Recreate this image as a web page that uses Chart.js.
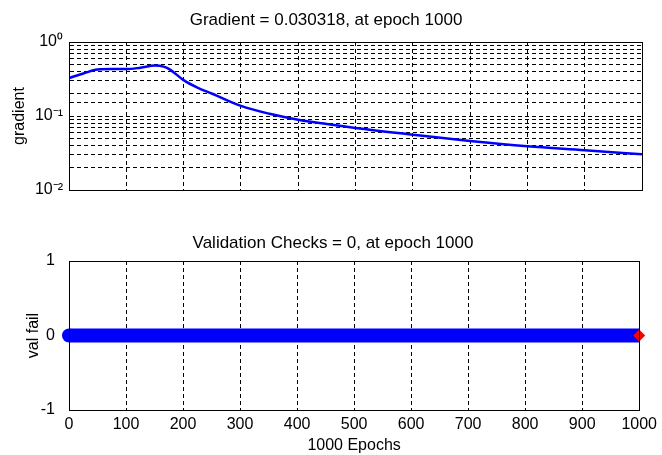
<!DOCTYPE html>
<html>
<head>
	<title></title>
	<script src="https://cdn.jsdelivr.net/npm/chart.js@4.4.1/dist/chart.umd.min.js"></script>
	<style>
		body { margin: 0; background: #fff; }
		canvas { position: absolute; left: 0; }
	</style>
</head>
<body>
	<canvas id="gradChart" width="662" height="230" style="top:0px;"></canvas>
	<canvas id="valChart" width="662" height="225" style="top:230px;"></canvas>
	<script>
		// gradient per epoch
		var epochs = [0, 25, 50, 75, 100, 125, 150, 165, 175, 200, 225, 250, 300, 350, 400, 450, 500, 600, 700, 800, 900, 1000];
		var gradient = [0.326, 0.375, 0.424, 0.43, 0.43, 0.45, 0.48, 0.465, 0.43, 0.305, 0.24, 0.2, 0.137, 0.107, 0.089, 0.078, 0.069, 0.056, 0.046, 0.039, 0.0345, 0.0303];

		// validation fails, 0 for the whole run
		var valEpochs = [0, 1000];
		var valFail = [0, 0];
		var bestEpoch = [1000];
		var bestVal = [0];

		var xTicks = [0, 100, 200, 300, 400, 500, 600, 700, 800, 900, 1000];
		var supers = { '0': '⁰', '-1': '⁻¹', '-2': '⁻²' };

		var family = 'Arial, "Liberation Sans", sans-serif';
		var font = { family: family, size: 16 };
		var titleFont = { family: family, size: 17, weight: 'normal' };
		var dash = [4, 3];

		function pts(xs, ys) {
			var out = [];
			for (var i = 0; i < xs.length; i++) out.push({ x: xs[i], y: ys[i] });
			return out;
		}

		// draws the full box round the plot area like matlab
		var boxPlugin = {
			id: 'box',
			afterDraw: function(chart) {
				var a = chart.chartArea, ctx = chart.ctx;
				ctx.save();
				ctx.strokeStyle = '#000';
				ctx.lineWidth = 1;
				ctx.strokeRect(Math.round(a.left) + 0.5, Math.round(a.top) + 0.5, Math.round(a.right - a.left), Math.round(a.bottom - a.top));
				ctx.restore();
			}
		};

		var xAxis = function(showLabels) {
			return {
				type: 'linear',
				min: 0,
				max: 1000,
				afterBuildTicks: function(scale) {
					scale.ticks = xTicks.map(function(v) { return { value: v }; });
				},
				ticks: {
					display: showLabels, color: '#000', font: font, maxRotation: 0, padding: 5,
					callback: function(v) { return String(v); }
				},
				grid: { color: '#000', drawTicks: false, lineWidth: 1 },
				border: { display: true, color: '#000', dash: dash }
			};
		};

		new Chart(document.getElementById('gradChart').getContext('2d'), {
			type: 'line',
			data: {
				datasets: [{
					data: pts(epochs, gradient),
					borderColor: '#0000ff',
					borderWidth: 2.5,
					pointRadius: 0,
					cubicInterpolationMode: 'monotone',
					fill: false
				}]
			},
			options: {
				responsive: false,
				animation: false,
				layout: { padding: { left: 10, right: 20, bottom: 40 } },
				plugins: {
					legend: { display: false },
					tooltip: { enabled: false },
					title: {
						display: true,
						text: 'Gradient = 0.030318, at epoch 1000',
						color: '#000',
						font: titleFont,
						padding: { top: 10, bottom: 11.6 }
					}
				},
				scales: {
					x: xAxis(false),
					y: {
						type: 'logarithmic',
						min: 0.01,
						max: 1,
						afterFit: function(scale) { scale.width = 59; },
						ticks: {
							color: '#000',
							font: font,
							padding: 6,
							autoSkip: false,
							callback: function(v) {
								var e = Math.round(Math.log10(v));
								if (Math.abs(Math.log10(v) - e) < 1e-6) return '10' + supers[String(e)];
								return '';
							}
						},
						grid: { color: '#000', drawTicks: false, lineWidth: 1 },
						border: { display: true, color: '#000', dash: dash },
						title: { display: true, text: 'gradient', color: '#000', font: font, padding: 0 }
					}
				}
			},
			plugins: [boxPlugin]
		});

		new Chart(document.getElementById('valChart').getContext('2d'), {
			type: 'line',
			data: {
				datasets: [{
					data: pts(bestEpoch, bestVal),
					borderColor: '#ff0000',
					backgroundColor: '#ff0000',
					showLine: false,
					pointStyle: 'rectRot',
					pointRadius: 6,
					borderWidth: 0,
					clip: false
				}, {
					data: pts(valEpochs, valFail),
					borderColor: '#0000ff',
					backgroundColor: '#0000ff',
					borderWidth: 14,
					borderCapStyle: 'butt',
					pointRadius: [7, 0],
					pointBorderWidth: 0,
					fill: false,
					clip: false
				}]
			},
			options: {
				responsive: false,
				animation: false,
				layout: { padding: { left: 24, right: 20, bottom: 0 } },
				plugins: {
					legend: { display: false },
					tooltip: { enabled: false },
					title: {
						display: true,
						text: 'Validation Checks = 0, at epoch 1000',
						color: '#000',
						font: titleFont,
						padding: { top: 3, bottom: 7.6 }
					}
				},
				scales: {
					x: Object.assign(xAxis(true), {
						afterFit: function(scale) { scale.height = 45; },
						title: { display: true, text: '1000 Epochs', color: '#000', font: font, padding: 0 }
					}),
					y: {
						type: 'linear',
						min: -1,
						max: 1,
						afterFit: function(scale) { scale.width = 45; },
						ticks: { stepSize: 1, color: '#000', font: font, padding: 6 },
						grid: { display: false },
						border: { display: true, color: '#000' },
						title: { display: true, text: 'val fail', color: '#000', font: font, padding: 0 }
					}
				}
			},
			plugins: [boxPlugin]
		});
	</script>
</body>
</html>
